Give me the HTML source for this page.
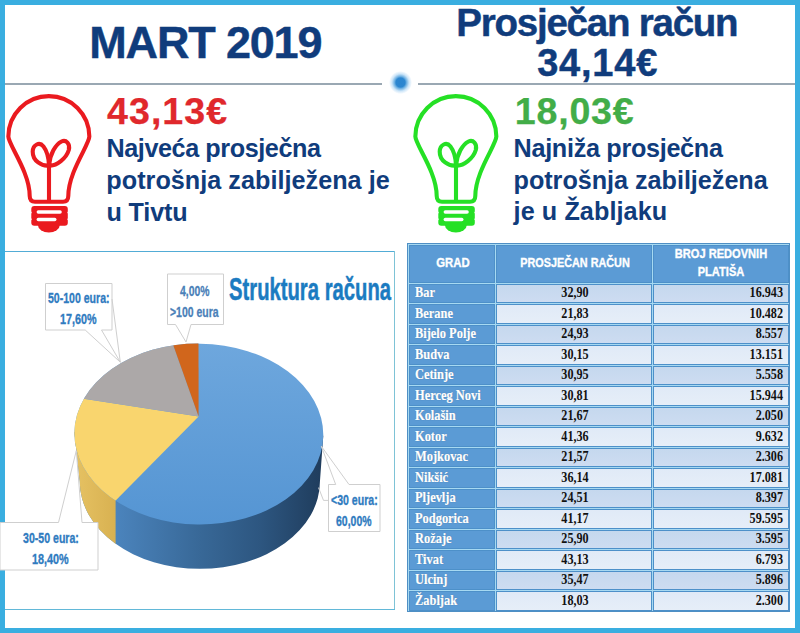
<!DOCTYPE html><html><head><meta charset="utf-8"><style>html,body{margin:0;padding:0;}body{width:800px;height:633px;position:relative;overflow:hidden;background:#fff;}div{box-sizing:border-box;}</style></head><body>
<div style="position:absolute;left:0;top:0;width:800px;height:4.5px;background:#3aaee0"></div>
<div style="position:absolute;left:0;top:0;width:5px;height:633px;background:#3aaee0"></div>
<div style="position:absolute;left:795px;top:0;width:5px;height:633px;background:#3aaee0"></div>
<div style="position:absolute;left:0;top:628px;width:800px;height:5px;background:#3aaee0"></div>
<div style="position:absolute;left:5px;top:83px;width:377px;height:1.8px;background:#9aa8b3"></div>
<div style="position:absolute;left:418px;top:83px;width:377px;height:1.8px;background:#9aa8b3"></div>
<div style="position:absolute;left:388.5px;top:71px;width:23px;height:23px;border-radius:50%;background:radial-gradient(circle closest-side, #2a84cf 0, #2c86d0 40%, rgba(58,148,216,0.75) 52%, rgba(110,180,235,0.35) 75%, rgba(150,205,245,0) 100%)"></div>
<svg style="position:absolute;left:0px;top:0" width="100" height="240" viewBox="0 0 100 240">
<g fill="none" stroke="#ea1a1f" stroke-width="4.1" stroke-linejoin="round" stroke-linecap="round">
<path d="M35 201.8 Q29.8 201.8 29.7 196 C29.7 172 8.35 144.6 8.35 136.6 A40.5 40.5 0 0 1 89.35 136.6 C89.35 144.6 68.3 172 68.3 196 Q68.2 201.8 63 201.8 Z"/>
<path d="M49 201 L49 165"/>
<path d="M49 165.5 C42 166.5 32.5 161 32.7 151.5 C33 144.5 39.5 141.5 43.5 146.5 C47 151 48.7 158 49 165.5 Z"/>
<path d="M49 165.5 C56.5 166.5 66.5 158 68.8 150 C70.5 143.5 66 139.5 61.5 141.5 C55.5 144.5 50 154 49 165.5 Z"/>
</g>
<g fill="#ea1a1f">
<rect x="31.3" y="206" width="36.5" height="19.8" rx="3"/>
<path d="M37.9 225 A10.95 7.4 0 0 0 59.8 225 Z"/>
</g>
<g fill="#fff">
<rect x="36.6" y="210.3" width="25.2" height="3.4" rx="1.7"/>
<rect x="36.6" y="217.7" width="19.9" height="3.5" rx="1.75"/>
<circle cx="30.6" cy="212.6" r="1.1"/><circle cx="68.5" cy="212.6" r="1.1"/>
<circle cx="30.6" cy="219.3" r="1.1"/><circle cx="68.5" cy="219.3" r="1.1"/>
</g>
</svg>
<svg style="position:absolute;left:406.5px;top:0" width="100" height="240" viewBox="0 0 100 240">
<g fill="none" stroke="#25e025" stroke-width="4.1" stroke-linejoin="round" stroke-linecap="round">
<path d="M35 201.8 Q29.8 201.8 29.7 196 C29.7 172 8.35 144.6 8.35 136.6 A40.5 40.5 0 0 1 89.35 136.6 C89.35 144.6 68.3 172 68.3 196 Q68.2 201.8 63 201.8 Z"/>
<path d="M49 201 L49 165"/>
<path d="M49 165.5 C42 166.5 32.5 161 32.7 151.5 C33 144.5 39.5 141.5 43.5 146.5 C47 151 48.7 158 49 165.5 Z"/>
<path d="M49 165.5 C56.5 166.5 66.5 158 68.8 150 C70.5 143.5 66 139.5 61.5 141.5 C55.5 144.5 50 154 49 165.5 Z"/>
</g>
<g fill="#25e025">
<rect x="31.3" y="206" width="36.5" height="19.8" rx="3"/>
<path d="M37.9 225 A10.95 7.4 0 0 0 59.8 225 Z"/>
</g>
<g fill="#fff">
<rect x="36.6" y="210.3" width="25.2" height="3.4" rx="1.7"/>
<rect x="36.6" y="217.7" width="19.9" height="3.5" rx="1.75"/>
<circle cx="30.6" cy="212.6" r="1.1"/><circle cx="68.5" cy="212.6" r="1.1"/>
<circle cx="30.6" cy="219.3" r="1.1"/><circle cx="68.5" cy="219.3" r="1.1"/>
</g>
</svg>
<div style="position:absolute;left:5px;top:250.5px;width:390px;height:1.5px;background:#52acd6"></div>
<div style="position:absolute;left:394px;top:251px;width:1px;height:359px;background:#7ec3d6"></div>
<div style="position:absolute;left:5px;top:608.5px;width:390px;height:1.5px;background:#62b8d8"></div>
<svg style="position:absolute;left:0;top:0" width="800" height="633" viewBox="0 0 800 633"><defs><linearGradient id="bs" x1="115" y1="0" x2="323" y2="0" gradientUnits="userSpaceOnUse"><stop offset="0" stop-color="#4b84bd"/><stop offset="0.41" stop-color="#386897"/><stop offset="0.7" stop-color="#2d5680"/><stop offset="1" stop-color="#1f3c5c"/></linearGradient><linearGradient id="ys" x1="74" y1="0" x2="116" y2="0" gradientUnits="userSpaceOnUse"><stop offset="0" stop-color="#e6c263"/><stop offset="1" stop-color="#d8b151"/></linearGradient><linearGradient id="bt" x1="0" y1="343" x2="0" y2="524" gradientUnits="userSpaceOnUse"><stop offset="0" stop-color="#6ea7dd"/><stop offset="1" stop-color="#5595d3"/></linearGradient><clipPath id="tc"><path d="M74.39 434.06 A124.45 90.43 0 1 1 323.29 434.06 A124.45 90.43 0 1 1 74.39 434.06 Z" transform="rotate(0.78 198.84 434.06)"/></clipPath><clipPath id="yc"><rect x="0" y="0" width="115.6" height="633"/></clipPath></defs><path d="M323.28 435.75 L319.94 481.56 A120.1 87.3 0 0 1 79.74 481.56 L74.40 432.37 Z" fill="url(#bs)"/><path d="M323.28 435.75 L319.94 481.56 A120.1 87.3 0 0 1 79.74 481.56 L74.40 432.37 Z" fill="url(#ys)" clip-path="url(#yc)"/><path d="M74.39 434.06 A124.45 90.43 0 1 1 323.29 434.06 A124.45 90.43 0 1 1 74.39 434.06 Z" transform="rotate(0.78 198.84 434.06)" fill="url(#bt)"/><g clip-path="url(#tc)"><path d="M198.60 416.40 L-51.00 669.60 L-145.20 363.90 Z" fill="#f9d56e"/><path d="M198.60 416.40 L-145.20 363.90 L122.55 202.65 Z" fill="#aca8a8"/><path d="M198.60 416.40 L122.55 202.65 L198.30 195.90 Z" fill="#d1661c"/></g><g fill="#fff" stroke="#cfcfcf" stroke-width="1"><path d="M167.5 274 H223.5 V324.5 H191 L186 342 L175.5 324.5 H167.5 Z"/><path d="M45.5 283.5 H112 V330 H101.5 L120.3 362.2 L85.2 330 H45.5 Z"/><path d="M112 299 L120.3 362.2" fill="none"/><path d="M0 522.5 H58.5 L76.3 450.7 L82 522.5 H98 V570 H0 Z"/><path d="M328.5 484.5 H335.7 L321.3 446.2 L349 484.5 H380 V531.5 H328.5 Z"/><path d="M318.5 487.6 L323.5 500.4 L328.5 500.4" fill="none"/></g></svg>
<div style="position:absolute;left:89.30px;top:19.80px;font:700 45px/45px 'Liberation Sans';color:#103c7c;letter-spacing:-1.175px;white-space:pre;-webkit-text-stroke:0.45px #103c7c;">MART 2019</div>
<div style="position:absolute;left:456.30px;top:4.30px;font:700 38.5px/38.5px 'Liberation Sans';color:#103c7c;letter-spacing:-1.232px;white-space:pre;-webkit-text-stroke:0.45px #103c7c;">Prosječan račun</div>
<div style="position:absolute;left:537.20px;top:44.30px;font:700 38px/38px 'Liberation Sans';color:#103c7c;letter-spacing:0.780px;white-space:pre;-webkit-text-stroke:0.45px #103c7c;">34,14€</div>
<div style="position:absolute;left:107.10px;top:92.50px;font:700 37.6px/37.6px 'Liberation Sans';color:#e0282c;letter-spacing:1.010px;white-space:pre;-webkit-text-stroke:0.25px #e0282c;">43,13€</div>
<div style="position:absolute;left:106.50px;top:136.00px;font:700 25.2px/25.2px 'Liberation Sans';color:#103c7c;letter-spacing:-0.422px;white-space:pre;">Najveća prosječna</div>
<div style="position:absolute;left:106.35px;top:167.70px;font:700 25.2px/25.2px 'Liberation Sans';color:#103c7c;letter-spacing:0.028px;white-space:pre;">potrošnja zabilježena je</div>
<div style="position:absolute;left:106.60px;top:199.50px;font:700 25.2px/25.2px 'Liberation Sans';color:#103c7c;letter-spacing:-0.183px;white-space:pre;">u Tivtu</div>
<div style="position:absolute;left:514.75px;top:92.50px;font:700 37.6px/37.6px 'Liberation Sans';color:#42ad48;letter-spacing:0.800px;white-space:pre;-webkit-text-stroke:0.25px #42ad48;">18,03€</div>
<div style="position:absolute;left:513.55px;top:135.50px;font:700 25.2px/25.2px 'Liberation Sans';color:#103c7c;letter-spacing:-0.300px;white-space:pre;">Najniža prosječna</div>
<div style="position:absolute;left:513.55px;top:167.50px;font:700 25.2px/25.2px 'Liberation Sans';color:#103c7c;letter-spacing:-0.027px;white-space:pre;">potrošnja zabilježena</div>
<div style="position:absolute;left:513.60px;top:199.30px;font:700 25.2px/25.2px 'Liberation Sans';color:#103c7c;letter-spacing:0.083px;white-space:pre;">je u Žabljaku</div>
<div style="position:absolute;left:228.87px;top:273.00px;font:700 32px/32px 'Liberation Sans';color:#1b7bc1;letter-spacing:0.000px;white-space:pre;transform:scaleX(0.6327);transform-origin:0 0;-webkit-text-stroke:0.5px #1b7bc1;">Struktura računa</div>
<div style="position:absolute;left:180.33px;top:283.30px;font:700 15px/15px 'Liberation Sans';color:#4a80b8;letter-spacing:0.000px;white-space:pre;transform:scaleX(0.6946);transform-origin:0 0;-webkit-text-stroke:0.3px #4a80b8;">4,00%</div>
<div style="position:absolute;left:170.18px;top:304.20px;font:700 15px/15px 'Liberation Sans';color:#4a80b8;letter-spacing:0.000px;white-space:pre;transform:scaleX(0.6971);transform-origin:0 0;-webkit-text-stroke:0.3px #4a80b8;">&gt;100 eura</div>
<div style="position:absolute;left:48.25px;top:290.40px;font:700 15px/15px 'Liberation Sans';color:#2f7bbf;letter-spacing:0.000px;white-space:pre;transform:scaleX(0.7029);transform-origin:0 0;-webkit-text-stroke:0.35px #2f7bbf;">50-100 eura:</div>
<div style="position:absolute;left:60.08px;top:311.00px;font:700 15px/15px 'Liberation Sans';color:#2f7bbf;letter-spacing:0.000px;white-space:pre;transform:scaleX(0.7192);transform-origin:0 0;-webkit-text-stroke:0.35px #2f7bbf;">17,60%</div>
<div style="position:absolute;left:23.35px;top:530.40px;font:700 15px/15px 'Liberation Sans';color:#2f7bbf;letter-spacing:0.000px;white-space:pre;transform:scaleX(0.7055);transform-origin:0 0;-webkit-text-stroke:0.35px #2f7bbf;">30-50 eura:</div>
<div style="position:absolute;left:32.28px;top:551.00px;font:700 15px/15px 'Liberation Sans';color:#2f7bbf;letter-spacing:0.000px;white-space:pre;transform:scaleX(0.7212);transform-origin:0 0;-webkit-text-stroke:0.35px #2f7bbf;">18,40%</div>
<div style="position:absolute;left:331.07px;top:492.30px;font:700 15px/15px 'Liberation Sans';color:#2f7bbf;letter-spacing:0.000px;white-space:pre;transform:scaleX(0.7047);transform-origin:0 0;-webkit-text-stroke:0.35px #2f7bbf;">&lt;30 eura:</div>
<div style="position:absolute;left:336.35px;top:512.80px;font:700 15px/15px 'Liberation Sans';color:#2f7bbf;letter-spacing:0.000px;white-space:pre;transform:scaleX(0.6980);transform-origin:0 0;-webkit-text-stroke:0.35px #2f7bbf;">60,00%</div>
<div style="position:absolute;left:407.0px;top:243.0px;width:383.0px;height:368.5px;background:#a6d9f2;border:1px solid #4f8fc4"></div>
<div style="position:absolute;left:409.0px;top:245.0px;width:85.5px;height:37.5px;background:#5b9bd5;border:1px solid #4d90c9"></div>
<div style="position:absolute;left:496.0px;top:245.0px;width:155.5px;height:37.5px;background:#5b9bd5;border:1px solid #4d90c9"></div>
<div style="position:absolute;left:653.0px;top:245.0px;width:135.5px;height:37.5px;background:#5b9bd5;border:1px solid #4d90c9"></div>
<div style="position:absolute;left:409.0px;top:283.5px;width:85.5px;height:19.5px;background:#5b9bd5;border:1px solid #4d90c9"></div>
<div style="position:absolute;left:496.0px;top:283.5px;width:155.5px;height:19.5px;background:linear-gradient(#c5d8ee,#cddcf1);border:1px solid #4d90c9"></div>
<div style="position:absolute;left:653.0px;top:283.5px;width:135.5px;height:19.5px;background:linear-gradient(#c5d8ee,#cddcf1);border:1px solid #4d90c9"></div>
<div style="position:absolute;left:409.0px;top:304.0px;width:85.5px;height:19.5px;background:#5b9bd5;border:1px solid #4d90c9"></div>
<div style="position:absolute;left:496.0px;top:304.0px;width:155.5px;height:19.5px;background:linear-gradient(#e0eaf7,#e6eef8);border:1px solid #4d90c9"></div>
<div style="position:absolute;left:653.0px;top:304.0px;width:135.5px;height:19.5px;background:linear-gradient(#e0eaf7,#e6eef8);border:1px solid #4d90c9"></div>
<div style="position:absolute;left:409.0px;top:324.5px;width:85.5px;height:19.5px;background:#5b9bd5;border:1px solid #4d90c9"></div>
<div style="position:absolute;left:496.0px;top:324.5px;width:155.5px;height:19.5px;background:linear-gradient(#c5d8ee,#cddcf1);border:1px solid #4d90c9"></div>
<div style="position:absolute;left:653.0px;top:324.5px;width:135.5px;height:19.5px;background:linear-gradient(#c5d8ee,#cddcf1);border:1px solid #4d90c9"></div>
<div style="position:absolute;left:409.0px;top:345.0px;width:85.5px;height:19.5px;background:#5b9bd5;border:1px solid #4d90c9"></div>
<div style="position:absolute;left:496.0px;top:345.0px;width:155.5px;height:19.5px;background:linear-gradient(#e0eaf7,#e6eef8);border:1px solid #4d90c9"></div>
<div style="position:absolute;left:653.0px;top:345.0px;width:135.5px;height:19.5px;background:linear-gradient(#e0eaf7,#e6eef8);border:1px solid #4d90c9"></div>
<div style="position:absolute;left:409.0px;top:365.5px;width:85.5px;height:19.5px;background:#5b9bd5;border:1px solid #4d90c9"></div>
<div style="position:absolute;left:496.0px;top:365.5px;width:155.5px;height:19.5px;background:linear-gradient(#c5d8ee,#cddcf1);border:1px solid #4d90c9"></div>
<div style="position:absolute;left:653.0px;top:365.5px;width:135.5px;height:19.5px;background:linear-gradient(#c5d8ee,#cddcf1);border:1px solid #4d90c9"></div>
<div style="position:absolute;left:409.0px;top:386.0px;width:85.5px;height:19.5px;background:#5b9bd5;border:1px solid #4d90c9"></div>
<div style="position:absolute;left:496.0px;top:386.0px;width:155.5px;height:19.5px;background:linear-gradient(#e0eaf7,#e6eef8);border:1px solid #4d90c9"></div>
<div style="position:absolute;left:653.0px;top:386.0px;width:135.5px;height:19.5px;background:linear-gradient(#e0eaf7,#e6eef8);border:1px solid #4d90c9"></div>
<div style="position:absolute;left:409.0px;top:406.5px;width:85.5px;height:19.5px;background:#5b9bd5;border:1px solid #4d90c9"></div>
<div style="position:absolute;left:496.0px;top:406.5px;width:155.5px;height:19.5px;background:linear-gradient(#c5d8ee,#cddcf1);border:1px solid #4d90c9"></div>
<div style="position:absolute;left:653.0px;top:406.5px;width:135.5px;height:19.5px;background:linear-gradient(#c5d8ee,#cddcf1);border:1px solid #4d90c9"></div>
<div style="position:absolute;left:409.0px;top:427.0px;width:85.5px;height:19.5px;background:#5b9bd5;border:1px solid #4d90c9"></div>
<div style="position:absolute;left:496.0px;top:427.0px;width:155.5px;height:19.5px;background:linear-gradient(#e0eaf7,#e6eef8);border:1px solid #4d90c9"></div>
<div style="position:absolute;left:653.0px;top:427.0px;width:135.5px;height:19.5px;background:linear-gradient(#e0eaf7,#e6eef8);border:1px solid #4d90c9"></div>
<div style="position:absolute;left:409.0px;top:447.5px;width:85.5px;height:19.5px;background:#5b9bd5;border:1px solid #4d90c9"></div>
<div style="position:absolute;left:496.0px;top:447.5px;width:155.5px;height:19.5px;background:linear-gradient(#c5d8ee,#cddcf1);border:1px solid #4d90c9"></div>
<div style="position:absolute;left:653.0px;top:447.5px;width:135.5px;height:19.5px;background:linear-gradient(#c5d8ee,#cddcf1);border:1px solid #4d90c9"></div>
<div style="position:absolute;left:409.0px;top:468.0px;width:85.5px;height:19.5px;background:#5b9bd5;border:1px solid #4d90c9"></div>
<div style="position:absolute;left:496.0px;top:468.0px;width:155.5px;height:19.5px;background:linear-gradient(#e0eaf7,#e6eef8);border:1px solid #4d90c9"></div>
<div style="position:absolute;left:653.0px;top:468.0px;width:135.5px;height:19.5px;background:linear-gradient(#e0eaf7,#e6eef8);border:1px solid #4d90c9"></div>
<div style="position:absolute;left:409.0px;top:488.5px;width:85.5px;height:19.5px;background:#5b9bd5;border:1px solid #4d90c9"></div>
<div style="position:absolute;left:496.0px;top:488.5px;width:155.5px;height:19.5px;background:linear-gradient(#c5d8ee,#cddcf1);border:1px solid #4d90c9"></div>
<div style="position:absolute;left:653.0px;top:488.5px;width:135.5px;height:19.5px;background:linear-gradient(#c5d8ee,#cddcf1);border:1px solid #4d90c9"></div>
<div style="position:absolute;left:409.0px;top:509.0px;width:85.5px;height:19.5px;background:#5b9bd5;border:1px solid #4d90c9"></div>
<div style="position:absolute;left:496.0px;top:509.0px;width:155.5px;height:19.5px;background:linear-gradient(#e0eaf7,#e6eef8);border:1px solid #4d90c9"></div>
<div style="position:absolute;left:653.0px;top:509.0px;width:135.5px;height:19.5px;background:linear-gradient(#e0eaf7,#e6eef8);border:1px solid #4d90c9"></div>
<div style="position:absolute;left:409.0px;top:529.5px;width:85.5px;height:19.5px;background:#5b9bd5;border:1px solid #4d90c9"></div>
<div style="position:absolute;left:496.0px;top:529.5px;width:155.5px;height:19.5px;background:linear-gradient(#c5d8ee,#cddcf1);border:1px solid #4d90c9"></div>
<div style="position:absolute;left:653.0px;top:529.5px;width:135.5px;height:19.5px;background:linear-gradient(#c5d8ee,#cddcf1);border:1px solid #4d90c9"></div>
<div style="position:absolute;left:409.0px;top:550.0px;width:85.5px;height:19.5px;background:#5b9bd5;border:1px solid #4d90c9"></div>
<div style="position:absolute;left:496.0px;top:550.0px;width:155.5px;height:19.5px;background:linear-gradient(#e0eaf7,#e6eef8);border:1px solid #4d90c9"></div>
<div style="position:absolute;left:653.0px;top:550.0px;width:135.5px;height:19.5px;background:linear-gradient(#e0eaf7,#e6eef8);border:1px solid #4d90c9"></div>
<div style="position:absolute;left:409.0px;top:570.5px;width:85.5px;height:19.5px;background:#5b9bd5;border:1px solid #4d90c9"></div>
<div style="position:absolute;left:496.0px;top:570.5px;width:155.5px;height:19.5px;background:linear-gradient(#c5d8ee,#cddcf1);border:1px solid #4d90c9"></div>
<div style="position:absolute;left:653.0px;top:570.5px;width:135.5px;height:19.5px;background:linear-gradient(#c5d8ee,#cddcf1);border:1px solid #4d90c9"></div>
<div style="position:absolute;left:409.0px;top:591.0px;width:85.5px;height:19.5px;background:#5b9bd5;border:1px solid #4d90c9"></div>
<div style="position:absolute;left:496.0px;top:591.0px;width:155.5px;height:19.5px;background:linear-gradient(#e0eaf7,#e6eef8);border:1px solid #4d90c9"></div>
<div style="position:absolute;left:653.0px;top:591.0px;width:135.5px;height:19.5px;background:linear-gradient(#e0eaf7,#e6eef8);border:1px solid #4d90c9"></div>
<div style="position:absolute;left:302.50px;width:300px;text-align:center;top:256.63px;font:700 12.6px/12.6px 'Liberation Sans';color:#fff;white-space:pre;transform:scaleX(0.9);transform-origin:150px 0;-webkit-text-stroke:0.35px #fff;">GRAD</div>
<div style="position:absolute;left:424.80px;width:300px;text-align:center;top:256.63px;font:700 12.6px/12.6px 'Liberation Sans';color:#fff;white-space:pre;transform:scaleX(0.86);transform-origin:150px 0;-webkit-text-stroke:0.35px #fff;">PROSJEČAN RAČUN</div>
<div style="position:absolute;left:571.20px;width:300px;text-align:center;top:247.93px;font:700 12.6px/12.6px 'Liberation Sans';color:#fff;white-space:pre;transform:scaleX(0.88);transform-origin:150px 0;-webkit-text-stroke:0.35px #fff;">BROJ REDOVNIH</div>
<div style="position:absolute;left:570.80px;width:300px;text-align:center;top:265.83px;font:700 12.6px/12.6px 'Liberation Sans';color:#fff;white-space:pre;transform:scaleX(0.88);transform-origin:150px 0;-webkit-text-stroke:0.35px #fff;">PLATIŠA</div>
<div style="position:absolute;left:415.20px;top:284.17px;font:700 15.2px/15.2px 'Liberation Serif';color:#fff;white-space:pre;transform:scaleX(0.8171052631578948);transform-origin:0 0;text-shadow:0 0 1px rgba(40,70,110,0.55);-webkit-text-stroke:0.2px #fff;">Bar</div>
<div style="position:absolute;left:424.60px;width:300px;text-align:center;top:284.17px;font:700 15.2px/15.2px 'Liberation Serif';color:#111;white-space:pre;transform:scaleX(0.799342105263158);transform-origin:150px 0;">32,90</div>
<div style="position:absolute;left:482.80px;width:300px;text-align:right;top:284.17px;font:700 15.2px/15.2px 'Liberation Serif';color:#111;white-space:pre;transform:scaleX(0.799342105263158);transform-origin:300px 0;">16.943</div>
<div style="position:absolute;left:415.20px;top:304.67px;font:700 15.2px/15.2px 'Liberation Serif';color:#fff;white-space:pre;transform:scaleX(0.8171052631578948);transform-origin:0 0;text-shadow:0 0 1px rgba(40,70,110,0.55);-webkit-text-stroke:0.2px #fff;">Berane</div>
<div style="position:absolute;left:424.60px;width:300px;text-align:center;top:304.67px;font:700 15.2px/15.2px 'Liberation Serif';color:#111;white-space:pre;transform:scaleX(0.799342105263158);transform-origin:150px 0;">21,83</div>
<div style="position:absolute;left:482.80px;width:300px;text-align:right;top:304.67px;font:700 15.2px/15.2px 'Liberation Serif';color:#111;white-space:pre;transform:scaleX(0.799342105263158);transform-origin:300px 0;">10.482</div>
<div style="position:absolute;left:415.20px;top:325.17px;font:700 15.2px/15.2px 'Liberation Serif';color:#fff;white-space:pre;transform:scaleX(0.8171052631578948);transform-origin:0 0;text-shadow:0 0 1px rgba(40,70,110,0.55);-webkit-text-stroke:0.2px #fff;">Bijelo Polje</div>
<div style="position:absolute;left:424.60px;width:300px;text-align:center;top:325.17px;font:700 15.2px/15.2px 'Liberation Serif';color:#111;white-space:pre;transform:scaleX(0.799342105263158);transform-origin:150px 0;">24,93</div>
<div style="position:absolute;left:482.80px;width:300px;text-align:right;top:325.17px;font:700 15.2px/15.2px 'Liberation Serif';color:#111;white-space:pre;transform:scaleX(0.799342105263158);transform-origin:300px 0;">8.557</div>
<div style="position:absolute;left:415.20px;top:345.67px;font:700 15.2px/15.2px 'Liberation Serif';color:#fff;white-space:pre;transform:scaleX(0.8171052631578948);transform-origin:0 0;text-shadow:0 0 1px rgba(40,70,110,0.55);-webkit-text-stroke:0.2px #fff;">Budva</div>
<div style="position:absolute;left:424.60px;width:300px;text-align:center;top:345.67px;font:700 15.2px/15.2px 'Liberation Serif';color:#111;white-space:pre;transform:scaleX(0.799342105263158);transform-origin:150px 0;">30,15</div>
<div style="position:absolute;left:482.80px;width:300px;text-align:right;top:345.67px;font:700 15.2px/15.2px 'Liberation Serif';color:#111;white-space:pre;transform:scaleX(0.799342105263158);transform-origin:300px 0;">13.151</div>
<div style="position:absolute;left:415.20px;top:366.17px;font:700 15.2px/15.2px 'Liberation Serif';color:#fff;white-space:pre;transform:scaleX(0.8171052631578948);transform-origin:0 0;text-shadow:0 0 1px rgba(40,70,110,0.55);-webkit-text-stroke:0.2px #fff;">Cetinje</div>
<div style="position:absolute;left:424.60px;width:300px;text-align:center;top:366.17px;font:700 15.2px/15.2px 'Liberation Serif';color:#111;white-space:pre;transform:scaleX(0.799342105263158);transform-origin:150px 0;">30,95</div>
<div style="position:absolute;left:482.80px;width:300px;text-align:right;top:366.17px;font:700 15.2px/15.2px 'Liberation Serif';color:#111;white-space:pre;transform:scaleX(0.799342105263158);transform-origin:300px 0;">5.558</div>
<div style="position:absolute;left:415.20px;top:386.67px;font:700 15.2px/15.2px 'Liberation Serif';color:#fff;white-space:pre;transform:scaleX(0.8171052631578948);transform-origin:0 0;text-shadow:0 0 1px rgba(40,70,110,0.55);-webkit-text-stroke:0.2px #fff;">Herceg Novi</div>
<div style="position:absolute;left:424.60px;width:300px;text-align:center;top:386.67px;font:700 15.2px/15.2px 'Liberation Serif';color:#111;white-space:pre;transform:scaleX(0.799342105263158);transform-origin:150px 0;">30,81</div>
<div style="position:absolute;left:482.80px;width:300px;text-align:right;top:386.67px;font:700 15.2px/15.2px 'Liberation Serif';color:#111;white-space:pre;transform:scaleX(0.799342105263158);transform-origin:300px 0;">15.944</div>
<div style="position:absolute;left:415.20px;top:407.17px;font:700 15.2px/15.2px 'Liberation Serif';color:#fff;white-space:pre;transform:scaleX(0.8171052631578948);transform-origin:0 0;text-shadow:0 0 1px rgba(40,70,110,0.55);-webkit-text-stroke:0.2px #fff;">Kolašin</div>
<div style="position:absolute;left:424.60px;width:300px;text-align:center;top:407.17px;font:700 15.2px/15.2px 'Liberation Serif';color:#111;white-space:pre;transform:scaleX(0.799342105263158);transform-origin:150px 0;">21,67</div>
<div style="position:absolute;left:482.80px;width:300px;text-align:right;top:407.17px;font:700 15.2px/15.2px 'Liberation Serif';color:#111;white-space:pre;transform:scaleX(0.799342105263158);transform-origin:300px 0;">2.050</div>
<div style="position:absolute;left:415.20px;top:427.67px;font:700 15.2px/15.2px 'Liberation Serif';color:#fff;white-space:pre;transform:scaleX(0.8171052631578948);transform-origin:0 0;text-shadow:0 0 1px rgba(40,70,110,0.55);-webkit-text-stroke:0.2px #fff;">Kotor</div>
<div style="position:absolute;left:424.60px;width:300px;text-align:center;top:427.67px;font:700 15.2px/15.2px 'Liberation Serif';color:#111;white-space:pre;transform:scaleX(0.799342105263158);transform-origin:150px 0;">41,36</div>
<div style="position:absolute;left:482.80px;width:300px;text-align:right;top:427.67px;font:700 15.2px/15.2px 'Liberation Serif';color:#111;white-space:pre;transform:scaleX(0.799342105263158);transform-origin:300px 0;">9.632</div>
<div style="position:absolute;left:415.20px;top:448.17px;font:700 15.2px/15.2px 'Liberation Serif';color:#fff;white-space:pre;transform:scaleX(0.8171052631578948);transform-origin:0 0;text-shadow:0 0 1px rgba(40,70,110,0.55);-webkit-text-stroke:0.2px #fff;">Mojkovac</div>
<div style="position:absolute;left:424.60px;width:300px;text-align:center;top:448.17px;font:700 15.2px/15.2px 'Liberation Serif';color:#111;white-space:pre;transform:scaleX(0.799342105263158);transform-origin:150px 0;">21,57</div>
<div style="position:absolute;left:482.80px;width:300px;text-align:right;top:448.17px;font:700 15.2px/15.2px 'Liberation Serif';color:#111;white-space:pre;transform:scaleX(0.799342105263158);transform-origin:300px 0;">2.306</div>
<div style="position:absolute;left:415.20px;top:468.67px;font:700 15.2px/15.2px 'Liberation Serif';color:#fff;white-space:pre;transform:scaleX(0.8171052631578948);transform-origin:0 0;text-shadow:0 0 1px rgba(40,70,110,0.55);-webkit-text-stroke:0.2px #fff;">Nikšić</div>
<div style="position:absolute;left:424.60px;width:300px;text-align:center;top:468.67px;font:700 15.2px/15.2px 'Liberation Serif';color:#111;white-space:pre;transform:scaleX(0.799342105263158);transform-origin:150px 0;">36,14</div>
<div style="position:absolute;left:482.80px;width:300px;text-align:right;top:468.67px;font:700 15.2px/15.2px 'Liberation Serif';color:#111;white-space:pre;transform:scaleX(0.799342105263158);transform-origin:300px 0;">17.081</div>
<div style="position:absolute;left:415.20px;top:489.17px;font:700 15.2px/15.2px 'Liberation Serif';color:#fff;white-space:pre;transform:scaleX(0.8171052631578948);transform-origin:0 0;text-shadow:0 0 1px rgba(40,70,110,0.55);-webkit-text-stroke:0.2px #fff;">Pljevlja</div>
<div style="position:absolute;left:424.60px;width:300px;text-align:center;top:489.17px;font:700 15.2px/15.2px 'Liberation Serif';color:#111;white-space:pre;transform:scaleX(0.799342105263158);transform-origin:150px 0;">24,51</div>
<div style="position:absolute;left:482.80px;width:300px;text-align:right;top:489.17px;font:700 15.2px/15.2px 'Liberation Serif';color:#111;white-space:pre;transform:scaleX(0.799342105263158);transform-origin:300px 0;">8.397</div>
<div style="position:absolute;left:415.20px;top:509.67px;font:700 15.2px/15.2px 'Liberation Serif';color:#fff;white-space:pre;transform:scaleX(0.8171052631578948);transform-origin:0 0;text-shadow:0 0 1px rgba(40,70,110,0.55);-webkit-text-stroke:0.2px #fff;">Podgorica</div>
<div style="position:absolute;left:424.60px;width:300px;text-align:center;top:509.67px;font:700 15.2px/15.2px 'Liberation Serif';color:#111;white-space:pre;transform:scaleX(0.799342105263158);transform-origin:150px 0;">41,17</div>
<div style="position:absolute;left:482.80px;width:300px;text-align:right;top:509.67px;font:700 15.2px/15.2px 'Liberation Serif';color:#111;white-space:pre;transform:scaleX(0.799342105263158);transform-origin:300px 0;">59.595</div>
<div style="position:absolute;left:415.20px;top:530.17px;font:700 15.2px/15.2px 'Liberation Serif';color:#fff;white-space:pre;transform:scaleX(0.8171052631578948);transform-origin:0 0;text-shadow:0 0 1px rgba(40,70,110,0.55);-webkit-text-stroke:0.2px #fff;">Rožaje</div>
<div style="position:absolute;left:424.60px;width:300px;text-align:center;top:530.17px;font:700 15.2px/15.2px 'Liberation Serif';color:#111;white-space:pre;transform:scaleX(0.799342105263158);transform-origin:150px 0;">25,90</div>
<div style="position:absolute;left:482.80px;width:300px;text-align:right;top:530.17px;font:700 15.2px/15.2px 'Liberation Serif';color:#111;white-space:pre;transform:scaleX(0.799342105263158);transform-origin:300px 0;">3.595</div>
<div style="position:absolute;left:415.20px;top:550.67px;font:700 15.2px/15.2px 'Liberation Serif';color:#fff;white-space:pre;transform:scaleX(0.8171052631578948);transform-origin:0 0;text-shadow:0 0 1px rgba(40,70,110,0.55);-webkit-text-stroke:0.2px #fff;">Tivat</div>
<div style="position:absolute;left:424.60px;width:300px;text-align:center;top:550.67px;font:700 15.2px/15.2px 'Liberation Serif';color:#111;white-space:pre;transform:scaleX(0.799342105263158);transform-origin:150px 0;">43,13</div>
<div style="position:absolute;left:482.80px;width:300px;text-align:right;top:550.67px;font:700 15.2px/15.2px 'Liberation Serif';color:#111;white-space:pre;transform:scaleX(0.799342105263158);transform-origin:300px 0;">6.793</div>
<div style="position:absolute;left:415.20px;top:571.17px;font:700 15.2px/15.2px 'Liberation Serif';color:#fff;white-space:pre;transform:scaleX(0.8171052631578948);transform-origin:0 0;text-shadow:0 0 1px rgba(40,70,110,0.55);-webkit-text-stroke:0.2px #fff;">Ulcinj</div>
<div style="position:absolute;left:424.60px;width:300px;text-align:center;top:571.17px;font:700 15.2px/15.2px 'Liberation Serif';color:#111;white-space:pre;transform:scaleX(0.799342105263158);transform-origin:150px 0;">35,47</div>
<div style="position:absolute;left:482.80px;width:300px;text-align:right;top:571.17px;font:700 15.2px/15.2px 'Liberation Serif';color:#111;white-space:pre;transform:scaleX(0.799342105263158);transform-origin:300px 0;">5.896</div>
<div style="position:absolute;left:415.20px;top:591.67px;font:700 15.2px/15.2px 'Liberation Serif';color:#fff;white-space:pre;transform:scaleX(0.8171052631578948);transform-origin:0 0;text-shadow:0 0 1px rgba(40,70,110,0.55);-webkit-text-stroke:0.2px #fff;">Žabljak</div>
<div style="position:absolute;left:424.60px;width:300px;text-align:center;top:591.67px;font:700 15.2px/15.2px 'Liberation Serif';color:#111;white-space:pre;transform:scaleX(0.799342105263158);transform-origin:150px 0;">18,03</div>
<div style="position:absolute;left:482.80px;width:300px;text-align:right;top:591.67px;font:700 15.2px/15.2px 'Liberation Serif';color:#111;white-space:pre;transform:scaleX(0.799342105263158);transform-origin:300px 0;">2.300</div>
</body></html>
